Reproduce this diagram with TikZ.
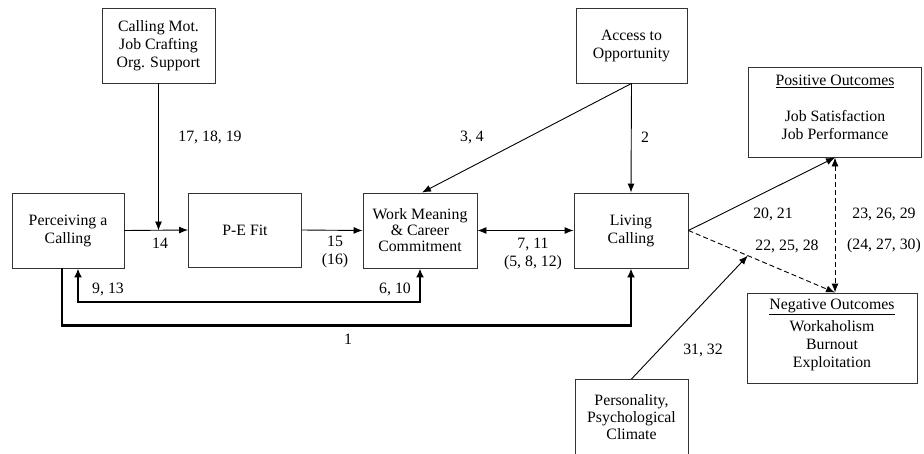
\documentclass[tikz,border=0pt]{standalone}
\usepackage{fontspec}
\setmainfont{Liberation Serif}
\usetikzlibrary{arrows.meta,calc}
\begin{document}
\begin{tikzpicture}[x=1pt,y=-1pt,
  font=\fontsize{15.8}{18}\selectfont,
  box/.style={draw=black!80,line width=0.9pt,rectangle,inner sep=0pt,align=center},
  conn/.style={line width=0.9pt,-{Latex[length=9pt,width=7pt]}},
  dconn/.style={line width=0.9pt,{Latex[length=9pt,width=7pt]}-{Latex[length=9pt,width=7pt]}},
  dsh/.style={dash pattern=on 5pt off 3pt},
  thk/.style={line width=2.4pt,-{Latex[length=9pt,width=8pt]}},
  dthk/.style={line width=2.4pt,{Latex[length=9pt,width=8pt]}-{Latex[length=9pt,width=8pt]}},
  lab/.style={inner sep=0pt,align=center}]
\clip (0,0) rectangle (924,453);
\fill[white] (0,0) rectangle (924,453);
% boxes
\node[box,minimum width=112pt,minimum height=75pt] (perc) at (68,230.5) {Perceiving a\\Calling};
\node[box,minimum width=113pt,minimum height=74pt] (pef) at (245,230) {P-E Fit};
\node[box,minimum width=114pt,minimum height=75pt] (wm) at (420,230.5) {Work Meaning\\[-2pt]\& Career\\[-2pt]Commitment};
\node[box,minimum width=114pt,minimum height=75pt] (lc) at (631,230.5) {Living\\Calling};
\node[box,minimum width=113pt,minimum height=75pt] (cm) at (158.5,45.5) {Calling Mot.\\Job Crafting\\Org. Support};
\node[box,minimum width=111pt,minimum height=75pt] (acc) at (631.5,45.5) {Access to\\Opportunity};
\node[box,minimum width=173pt,minimum height=90pt] (pos) at (835,112) {};
\node[lab] (post) at (835,107) {\underline{Positive Outcomes}\\[18pt]Job Satisfaction\\Job Performance};
\node[box,minimum width=170pt,minimum height=90pt] (neg) at (832,338) {};
\node[lab] (negt) at (832,335) {\underline{Negative Outcomes}\\[4pt]Workaholism\\Burnout\\Exploitation};
\node[box,minimum width=113pt,minimum height=95pt,anchor=north] (pers) at (631.5,379) {};
\node[lab] (perst) at (631.5,417) {Personality,\\[-1pt]Psychological\\[-1pt]Climate};
% connectors
\coordinate (j14) at (cm.south |- perc.east);
\draw[conn] (perc.east) -- (pef.west);
\draw[conn] (cm.south) -- (j14);
\draw[conn] (pef.east) -- (wm.west);
\draw[dconn] (wm.east) -- (lc.west);
\draw[conn] (acc.south) -- (lc.north);
\draw[conn] (acc.south) -- ([xshift=2pt]wm.north);
\draw[thk] ([xshift=-6pt]perc.south) -- ++(0,57) -| (lc.south);
\coordinate (b2) at ([xshift=10pt]perc.south);
\draw[dthk] (b2) -- (b2 |- 0,302) -| (wm.south);
\coordinate (negtop) at (pos.south |- neg.north);
\draw[conn] (lc.east) -- (pos.south);
\draw[conn,dsh] (lc.east) -- (negtop);
\draw[dconn,dsh] (pos.south) -- (negtop);
\coordinate (mid) at ($(lc.east)!0.405!(negtop)$);
\draw[conn] (pers.north) -- (mid);
% labels
\node[lab] (l171819) at (210,137) {17, 18, 19};
\node[lab] (l34) at (472,137) {3, 4};
\node[lab] (l2) at (645,137) {2};
\node[lab] (l14) at (160,243) {14};
\node[lab] (l15) at (335,252) {15\\(16)};
\node[lab] (l913) at (108,289) {9, 13};
\node[lab] (l610) at (395,289) {6, 10};
\node[lab] (l1) at (348,339) {1};
\node[lab] (l711) at (533,254) {7, 11\\(5, 8, 12)};
\node[lab] (l2021) at (773,214) {20, 21};
\node[lab] (l222528) at (787,246) {22, 25, 28};
\node[lab] (l232629) at (884,214) {23, 26, 29};
\node[lab] (l242730) at (884,246) {(24, 27, 30)};
\node[lab] (l3132) at (703,350) {31, 32};
\end{tikzpicture}
\end{document}
